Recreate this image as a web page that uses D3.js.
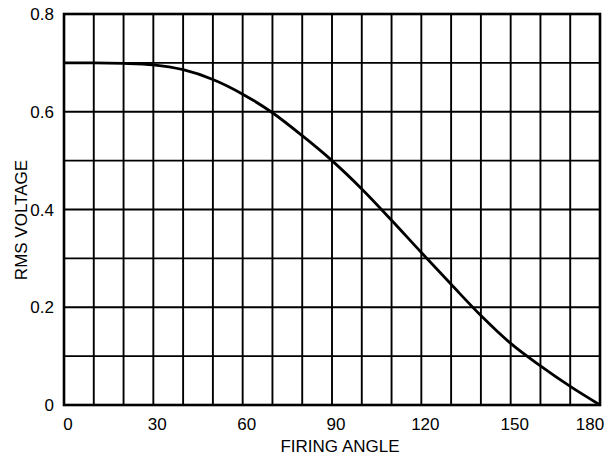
<!DOCTYPE html>
<html>
<head>
<meta charset="utf-8">
<script src="https://d3js.org/d3.v7.min.js"></script>
<style type="text/css">
  body { margin: 0; background: #fff; }
  text { font-family: "Liberation Sans", Arial, sans-serif; fill: #000; }
</style>
</head>
<body>
<svg id="chart" width="609" height="457"></svg>
<script>
  // firing angle (degrees) and rms voltage
  var angles = [0, 10, 20, 30, 40, 50, 60, 70, 80, 90, 100, 110, 120, 130, 140, 150, 160, 170, 180];
  var rmsVolts = [0.700, 0.700, 0.699, 0.696, 0.686, 0.666, 0.636, 0.598, 0.551, 0.500, 0.442, 0.378, 0.312, 0.247, 0.183, 0.126, 0.080, 0.038, 0];
  var xTicks = [0, 30, 60, 90, 120, 150, 180];
  var yTicks = [0, 0.2, 0.4, 0.6, 0.8];

  var svg = d3.select("#chart");
  var scX = d3.scaleLinear().domain([0, 180]).range([64, 600]);
  var scY = d3.scaleLinear().domain([0, 0.8]).range([405, 14]);

  // grid: every 10 degrees, every 0.1 volts
  svg.append("g").selectAll("line").data(d3.range(0, 181, 10)).enter().append("line")
    .attr("x1", d => scX(d)).attr("x2", d => scX(d))
    .attr("y1", scY(0)).attr("y2", scY(0.8))
    .attr("stroke", "#000").attr("stroke-width", 1.9);
  svg.append("g").selectAll("line").data(d3.range(0, 9).map(i => i / 10)).enter().append("line")
    .attr("x1", scX(0)).attr("x2", scX(180))
    .attr("y1", d => scY(d)).attr("y2", d => scY(d))
    .attr("stroke", "#000").attr("stroke-width", 1.9);

  svg.append("rect")
    .attr("x", scX(0)).attr("y", scY(0.8))
    .attr("width", scX(180) - scX(0)).attr("height", scY(0) - scY(0.8))
    .attr("fill", "none").attr("stroke", "#000").attr("stroke-width", 2.6);

  var line = d3.line().curve(d3.curveMonotoneX)
    .x((d, i) => scX(angles[i])).y(d => scY(d));
  svg.append("path").datum(rmsVolts)
    .attr("d", line).attr("fill", "none")
    .attr("stroke", "#000").attr("stroke-width", 2.8);

  svg.append("g").selectAll("text").data(xTicks).enter().append("text")
    .attr("x", d => Math.min(scX(d) + 4, 590)).attr("y", 430)
    .attr("text-anchor", "middle").attr("font-size", 17)
    .text(d => d);
  svg.append("g").selectAll("text").data(yTicks).enter().append("text")
    .attr("x", 54).attr("y", d => scY(d)).attr("dy", "0.36em")
    .attr("text-anchor", "end").attr("font-size", 17)
    .text(d => d === 0 ? "0" : d3.format(".1f")(d));

  svg.append("text")
    .attr("x", 340).attr("y", 452)
    .attr("text-anchor", "middle").attr("font-size", 17)
    .text("FIRING ANGLE");
  svg.append("text")
    .attr("transform", "translate(27,220) rotate(-90)")
    .attr("text-anchor", "middle").attr("font-size", 17)
    .text("RMS VOLTAGE");
</script>
</body>
</html>
